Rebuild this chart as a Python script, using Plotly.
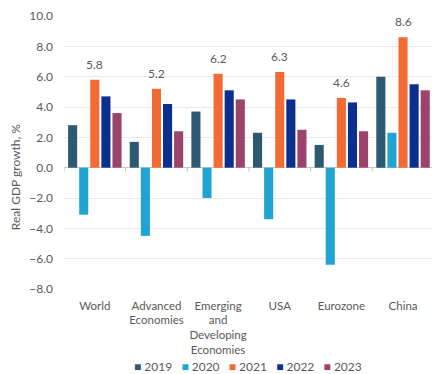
import plotly.graph_objects as go

categories = ["World", "Advanced<br>Economies", "Emerging<br>and<br>Developing<br>Economies",
              "USA", "Eurozone", "China"]
years = ["2019", "2020", "2021", "2022", "2023"]
g2019 = [2.8, 1.7, 3.7, 2.3, 1.5, 6.0]
g2020 = [-3.1, -4.5, -2.0, -3.4, -6.4, 2.3]
g2021 = [5.8, 5.2, 6.2, 6.3, 4.6, 8.6]
g2022 = [4.7, 4.2, 5.1, 4.5, 4.3, 5.5]
g2023 = [3.6, 2.4, 4.5, 2.5, 2.4, 5.1]
y_ticks = [10, 8, 6, 4, 2, 0, -2, -4, -6, -8]

series = [g2019, g2020, g2021, g2022, g2023]
colors = ["#2F5873", "#22A4D3", "#F26B35", "#0B2F8F", "#9B426D"]
grey = "#595959"
font_family = "Lato, 'Open Sans', sans-serif"

fig = go.Figure()
for yr, vals, col in zip(years, series, colors):
    fig.add_trace(go.Bar(x=list(range(len(categories))), y=vals, name=yr,
                         marker_color=col, marker_line_width=0, cliponaxis=True,
                         showlegend=False))

# value labels over the 2021 bars (the middle bar of each group)
for i, v in enumerate(g2021):
    fig.add_annotation(x=i, y=v, xref="x", yref="y", text=f"{v:.1f}", showarrow=False,
                       yanchor="bottom", yshift=6,
                       font=dict(size=12, color=grey, family=font_family))

# small tick marks on the zero line at category boundaries
for i in range(len(categories) + 1):
    fig.add_shape(type="line", xref="x", yref="y", x0=i - 0.5, x1=i - 0.5,
                  y0=0, y1=-0.25, line=dict(color="#BFBFBF", width=1))

# y-axis title, set a little below the plot centre
fig.add_annotation(xref="paper", yref="paper", x=-0.133, y=0.41, xanchor="center",
                   yanchor="middle", text="Real GDP growth, %", textangle=-90,
                   showarrow=False, font=dict(size=12, color=grey, family=font_family))

# compact legend row: coloured squares followed by the year
legend_text = "&nbsp;&nbsp;&nbsp;".join(
    f"<span style='color:{c}'>■</span>&nbsp;{y}" for y, c in zip(years, colors))
fig.add_annotation(xref="paper", yref="paper", x=0.5, y=-0.285, xanchor="center",
                   yanchor="middle", text=legend_text, showarrow=False,
                   font=dict(size=12, color=grey, family=font_family))

fig.update_layout(
    width=432, height=374,
    margin=dict(l=64, r=0, t=16, b=85, autoexpand=False),
    paper_bgcolor="white", plot_bgcolor="white",
    barmode="group", bargap=0.1, bargroupgap=0.18,
    font=dict(family=font_family, color=grey, size=12),
    showlegend=False,
)
fig.update_xaxes(
    tickmode="array", tickvals=list(range(len(categories))), ticktext=categories,
    range=[-0.5, len(categories) - 0.53], showgrid=False, showline=False,
    zeroline=False, ticks="", tickfont=dict(size=11.5, color=grey), ticklabelstandoff=8,
)
fig.update_yaxes(
    range=[-8, 10], tickvals=y_ticks, tickformat=".1f", showgrid=True,
    gridcolor="#EAEAEA", gridwidth=1, zeroline=True, zerolinecolor="#C8C8C8",
    zerolinewidth=1, showline=False, ticks="", tickfont=dict(size=12, color=grey),
    ticklabelstandoff=10,
)

fig.write_html("out.html")
